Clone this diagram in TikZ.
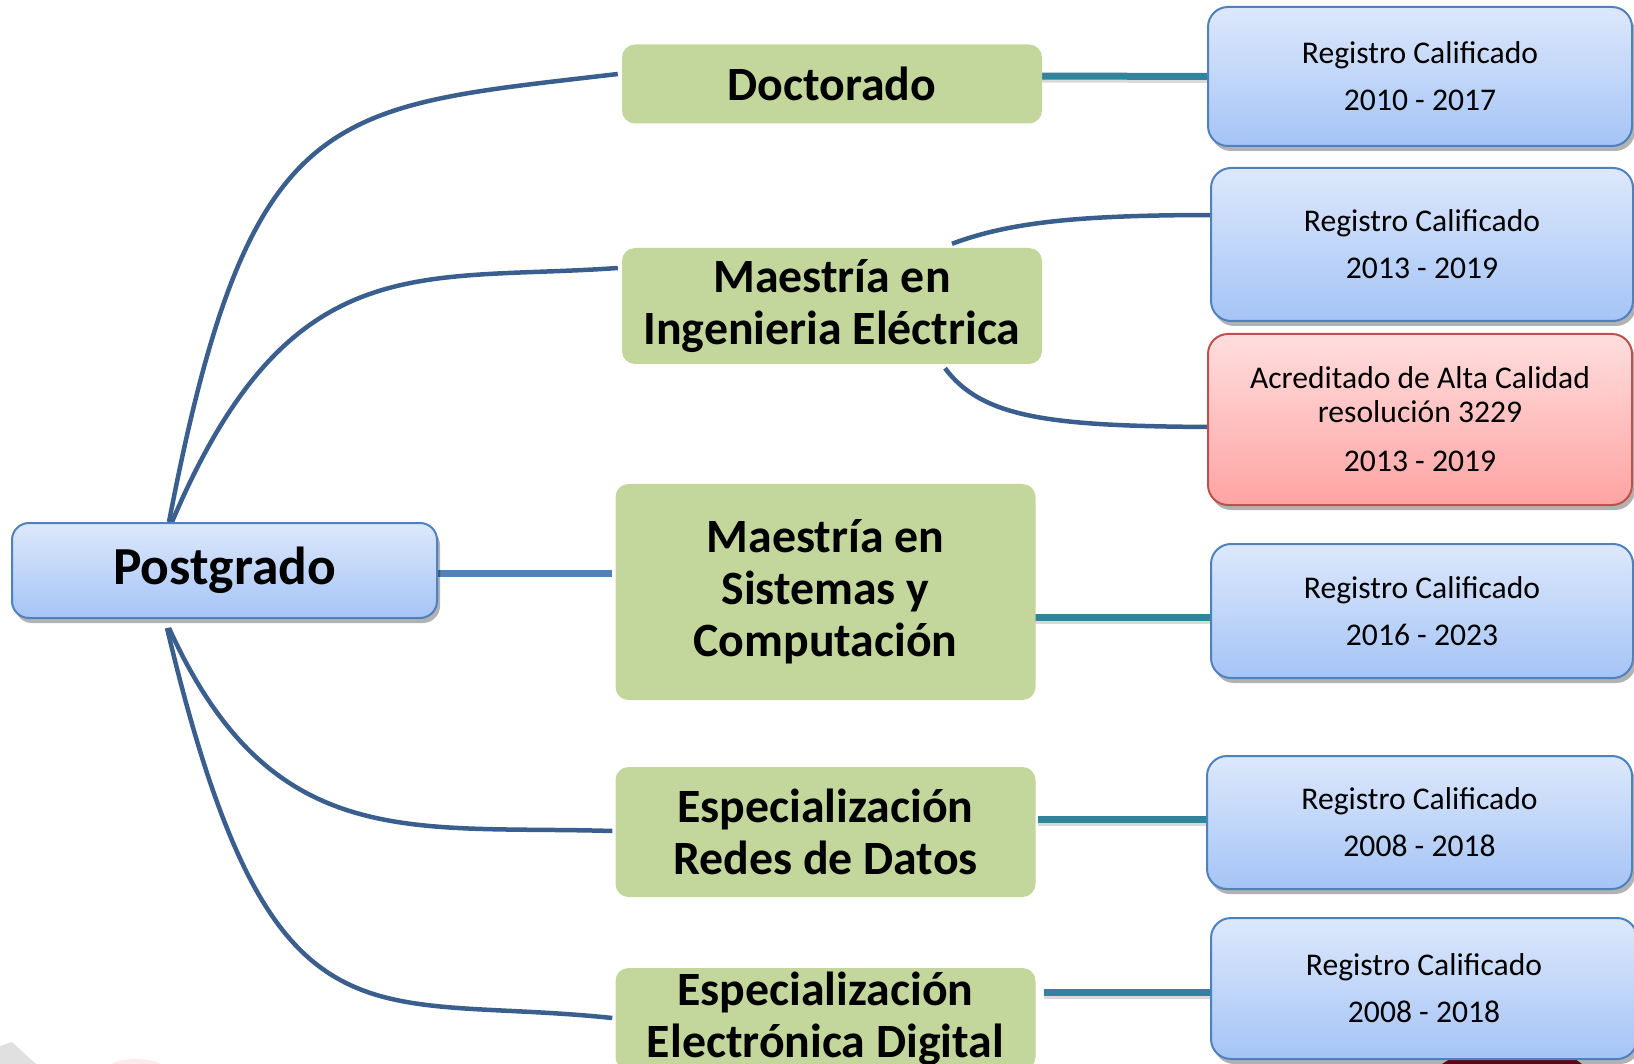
\documentclass[tikz,border=0pt]{standalone}
\usepackage{fontspec}
\setmainfont{Carlito}
\usetikzlibrary{shadows,backgrounds}
\definecolor{gfill}{HTML}{C3D69B}
\definecolor{btop}{HTML}{DDE8FB}
\definecolor{bbot}{HTML}{A5C4F6}
\definecolor{bline}{HTML}{4F81BD}
\definecolor{rtop}{HTML}{FFDEDE}
\definecolor{rbot}{HTML}{FFA3A3}
\definecolor{rline}{HTML}{C0504D}
\definecolor{curvec}{HTML}{3A5F8E}
\definecolor{tealc}{HTML}{31849B}
\definecolor{darkred}{HTML}{7F0F22}
\begin{document}
\begin{tikzpicture}[x=1pt,y=-1pt,
  greenbox/.style={fill=gfill, rounded corners=13pt, align=center, inner sep=0pt,
    font=\fontsize{47.8}{52}\selectfont\bfseries},
  bluebox/.style={draw=bline, line width=2pt, top color=btop, bottom color=bbot,
    rounded corners=20pt, align=center, inner sep=0pt,
    font=\fontsize{31.6}{34}\selectfont,
    drop shadow={shadow xshift=3pt, shadow yshift=-5pt, opacity=0.3, fill=black}},
  redbox/.style={bluebox, draw=rline, top color=rtop, bottom color=rbot},
  curveline/.style={draw=curvec, line width=4.5pt},
  tealline/.style={draw=tealc, line width=7pt},
  tealshadow/.style={draw=black, opacity=0.15, line width=7pt},
  mainline/.style={draw=bline, line width=7pt}]
\useasboundingbox (0,0) rectangle (1634,1064);

% root
\node[bluebox, rounded corners=17pt, minimum width=425pt, minimum height=95pt,
  font=\fontsize{53.5}{60}\selectfont\bfseries] (post) at (224.5,570.5) {Postgrado};

% programmes
\node[greenbox, minimum width=420pt, minimum height=79pt] (doc) at (832,84) {Doctorado};
\node[greenbox, minimum width=420pt, minimum height=116pt] (mie) at (832,306) {Maestría en\\Ingenieria Eléctrica};
\node[greenbox, minimum width=420pt, minimum height=216pt] (msc) at (825.5,592) {Maestría en\\Sistemas y\\Computación};
\node[greenbox, minimum width=420pt, minimum height=130pt] (redes) at (825.5,832) {Especialización\\Redes de Datos};
\node[greenbox, minimum width=420pt, minimum height=102pt] (elec) at (825.5,1019) {Especialización\\Electrónica Digital};

% background decorations (behind)
\begin{scope}[on background layer]
  \fill[black!12] (0,1046) -- (12,1042) -- (36,1064) -- (0,1064) -- cycle;
  \fill[red!8] (112,1064) .. controls (118,1058) and (150,1057) .. (160,1064) -- cycle;
  \fill[darkred] (1442,1064) -- (1450,1059) -- (1575,1059) -- (1582,1064) -- cycle;
\end{scope}

% accreditation boxes
\node[bluebox, minimum width=424pt, minimum height=139pt] (rc1) at (1420,76.5) {Registro Calificado\\[13pt]2010 - 2017};
\node[bluebox, minimum width=422pt, minimum height=153pt] (rc2) at (1422,244.5) {Registro Calificado\\[13pt]2013 - 2019};
\node[redbox, minimum width=424pt, minimum height=171pt] (acr) at (1420,419.5) {Acreditado de Alta Calidad\\resolución 3229\\[15pt]2013 - 2019};
\node[bluebox, minimum width=422pt, minimum height=134pt] (rc3) at (1422,611) {Registro Calificado\\[13pt]2016 - 2023};
\node[bluebox, minimum width=425pt, minimum height=133pt] (rc4) at (1419.5,822.5) {Registro Calificado\\[13pt]2008 - 2018};
\node[bluebox, minimum width=426pt, minimum height=141pt] (rc5) at (1424,988.5) {Registro Calificado\\[13pt]2008 - 2018};

% connectors
\begin{scope}[on background layer]
  % root to programmes
  \draw[curveline] ([xshift=158pt]post.north west) .. controls (250,100) and (330,108) .. ([xshift=-4pt,yshift=10pt]doc.west);
  \draw[curveline] ([xshift=161pt]post.north west) .. controls (290,244) and (418,282) .. ([xshift=-4pt,yshift=38pt]mie.west);
  \draw[mainline] ([yshift=-2.5pt]post.east) -- ([xshift=-3pt,yshift=19pt]msc.west);
  \draw[curveline] ([xshift=158pt,yshift=-9pt]post.south west) .. controls (272,855) and (412,825) .. ([xshift=-3pt,yshift=1pt]redes.west);
  \draw[curveline] ([xshift=156pt,yshift=-9pt]post.south west) .. controls (271,1065) and (363,992) .. ([xshift=-3pt,yshift=1pt]elec.west);
  % programmes to accreditations
  \draw[curveline] ([xshift=120pt,yshift=4pt]mie.north) .. controls (1010,222) and (1080,215) .. ([xshift=6pt,yshift=29.5pt]rc2.west);
  \draw[curveline] ([xshift=113pt,yshift=-4pt]mie.south) .. controls (982,418) and (1050,426) .. ([xshift=2pt,yshift=-7.5pt]acr.west);
  \draw[tealshadow] ([xshift=-1pt,yshift=5pt]doc.east) -- ([xshift=4pt,yshift=-3pt]rc1.west);
  \draw[tealline] ([xshift=-2pt,yshift=8pt]doc.east) -- ([xshift=4pt,yshift=0pt]rc1.west);
  \draw[tealshadow] ([xshift=-1pt,yshift=-28pt]msc.east) -- ([xshift=2pt,yshift=-9pt]rc3.west);
  \draw[tealline] ([xshift=-2pt,yshift=-25pt]msc.east) -- ([xshift=2pt,yshift=-6pt]rc3.west);
  \draw[tealshadow] ([xshift=2pt,yshift=10pt]redes.east) -- ([xshift=10pt,yshift=0.5pt]rc4.west);
  \draw[tealline] ([xshift=2pt,yshift=13pt]redes.east) -- ([xshift=10pt,yshift=3.5pt]rc4.west);
  \draw[tealshadow] ([xshift=8pt,yshift=24pt]elec.east) -- ([xshift=2pt,yshift=-6.5pt]rc5.west);
  \draw[tealline] ([xshift=8pt,yshift=27pt]elec.east) -- ([xshift=2pt,yshift=-3.5pt]rc5.west);
\end{scope}
\end{tikzpicture}
\end{document}
